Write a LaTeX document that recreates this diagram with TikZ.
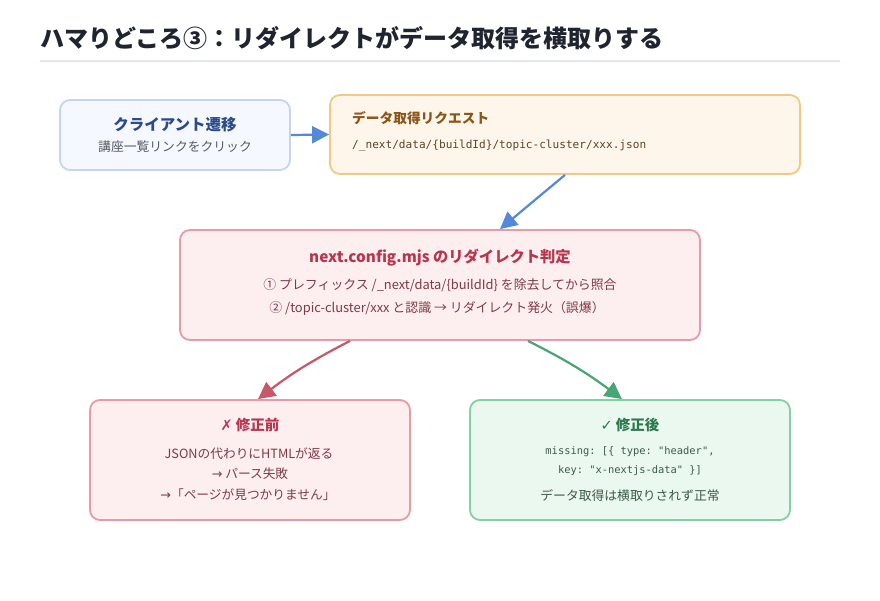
\documentclass[tikz,border=0pt]{standalone}
\usepackage{fontspec}
\setmainfont{Noto Sans CJK JP}
\setmonofont{DejaVu Sans Mono}
\newfontfamily\symfont{DejaVu Sans}
\usetikzlibrary{arrows.meta}
\definecolor{titlecol}{HTML}{1F2430}
\definecolor{rulecol}{HTML}{E3E6F0}
\definecolor{bluefill}{HTML}{F5F8FE}
\definecolor{blueline}{HTML}{C5D5F0}
\definecolor{bluetext}{HTML}{2B4A8C}
\definecolor{graytext}{HTML}{555B66}
\definecolor{bluearrow}{HTML}{5588D8}
\definecolor{orfill}{HTML}{FEF6EA}
\definecolor{orline}{HTML}{F2C984}
\definecolor{ortext}{HTML}{8A5518}
\definecolor{orcode}{HTML}{5C4326}
\definecolor{redfill}{HTML}{FDEEF0}
\definecolor{redline}{HTML}{E89AA6}
\definecolor{redtitle}{HTML}{B8354D}
\definecolor{redtext}{HTML}{7D3B45}
\definecolor{redarrow}{HTML}{C85868}
\definecolor{grfill}{HTML}{EBF8EF}
\definecolor{grline}{HTML}{86D0A0}
\definecolor{grtitle}{HTML}{2A7A4C}
\definecolor{grtext}{HTML}{3D5A48}
\definecolor{grarrow}{HTML}{4AA576}
\tikzset{
  box/.style={draw, line width=1.8pt, rounded corners=10pt, inner sep=0pt},
  txt/.style={inner sep=0pt, anchor=center},
  conn/.style={line width=2.2pt, -{Triangle[length=17pt,width=17pt]}},
}
\begin{document}
\begin{tikzpicture}[x=1pt,y=-1pt]
\useasboundingbox[fill=white] (0,0) rectangle (880,600);
% title
\node[txt, anchor=west, text=titlecol, font=\fontsize{24}{28}\selectfont\bfseries] (title) at (40,38) {ハマりどころ③：リダイレクトがデータ取得を横取りする};
\draw[rulecol, line width=2pt] (40,61) coordinate (r1) -- (840,61) coordinate (r2);
% boxes
\node[box, draw=blueline, fill=bluefill, minimum width=230pt, minimum height=70pt] (b1) at (175,135) {};
\node[box, draw=orline, fill=orfill, minimum width=470pt, minimum height=79pt] (b2) at (565,134.5) {};
\node[box, draw=redline, fill=redfill, minimum width=520pt, minimum height=110pt] (b3) at (440,285) {};
\node[box, draw=redline, fill=redfill, minimum width=320pt, minimum height=120pt] (b4) at (250,460) {};
\node[box, draw=grline, fill=grfill, minimum width=320pt, minimum height=120pt] (b5) at (630,460) {};
% box1 text
\node[txt, text=bluetext, font=\fontsize{15.5}{18}\selectfont\bfseries] (b1t) at (175,125) {クライアント遷移};
\node[txt, text=graytext, font=\fontsize{12.8}{15}\selectfont] (b1s) at (175,147) {講座一覧リンクをクリック};
% box2 text
\node[txt, anchor=west, text=ortext, font=\fontsize{13.7}{16}\selectfont\bfseries] (b2t) at (352,118.5) {データ取得リクエスト};
\node[txt, anchor=west, text=orcode, font=\fontsize{11.1}{13}\ttfamily] (b2c) at (352,146) {/\_next/data/\{buildId\}/topic-cluster/xxx.json};
% box3 text
\node[txt, text=redtitle, font=\fontsize{15.3}{18}\selectfont\bfseries] (b3t) at (440,258) {next.config.mjs のリダイレクト判定};
\node[txt, text=redtext, font=\fontsize{12.9}{15}\selectfont] (b3a) at (440,285) {① プレフィックス /\_next/data/\{buildId\} を除去してから照合};
\node[txt, text=redtext, font=\fontsize{12.9}{15}\selectfont] (b3b) at (437,308) {② /topic-cluster/xxx と認識 → リダイレクト発火（誤爆）};
% box4 text
\node[txt, text=redtitle, font=\fontsize{14.5}{17}\selectfont\bfseries] (b4t) at (250,425) {{\symfont ✗} 修正前};
\node[txt, text=redtext, font=\fontsize{12.7}{15}\selectfont] (b4a) at (249,454) {JSONの代わりにHTMLが返る};
\node[txt, text=redtext, font=\fontsize{12.7}{15}\selectfont] (b4b) at (250,474) {{\symfont →} パース失敗};
\node[txt, text=redtext, font=\fontsize{12.7}{15}\selectfont] (b4c) at (248,495) {{\symfont →}「ページが見つかりません」};
% box5 text
\node[txt, text=grtitle, font=\fontsize{14.5}{17}\selectfont\bfseries] (b5t) at (630,425) {{\symfont ✓} 修正後};
\node[txt, text=grtext, font=\fontsize{10.4}{12}\ttfamily] (b5a) at (630,452) {missing: [\{ type: "header",};
\node[txt, text=grtext, font=\fontsize{10.4}{12}\ttfamily] (b5b) at (630,471) {key: "x-nextjs-data" \}]};
\node[txt, text=grtext, font=\fontsize{12.8}{15}\selectfont] (b5c) at (630,496) {データ取得は横取りされず正常};
% connectors
\draw[conn, bluearrow] (b1.east) -- (b2.west);
\draw[conn, bluearrow] (b2.south) -- ([xshift=60pt]b3.north);
\draw[conn, redarrow] ([xshift=-90pt]b3.south) to[bend right=5] ([xshift=8pt]b4.north);
\draw[conn, grarrow] ([xshift=88pt]b3.south) to[bend left=5] ([xshift=-8pt]b5.north);
\end{tikzpicture}
\end{document}
